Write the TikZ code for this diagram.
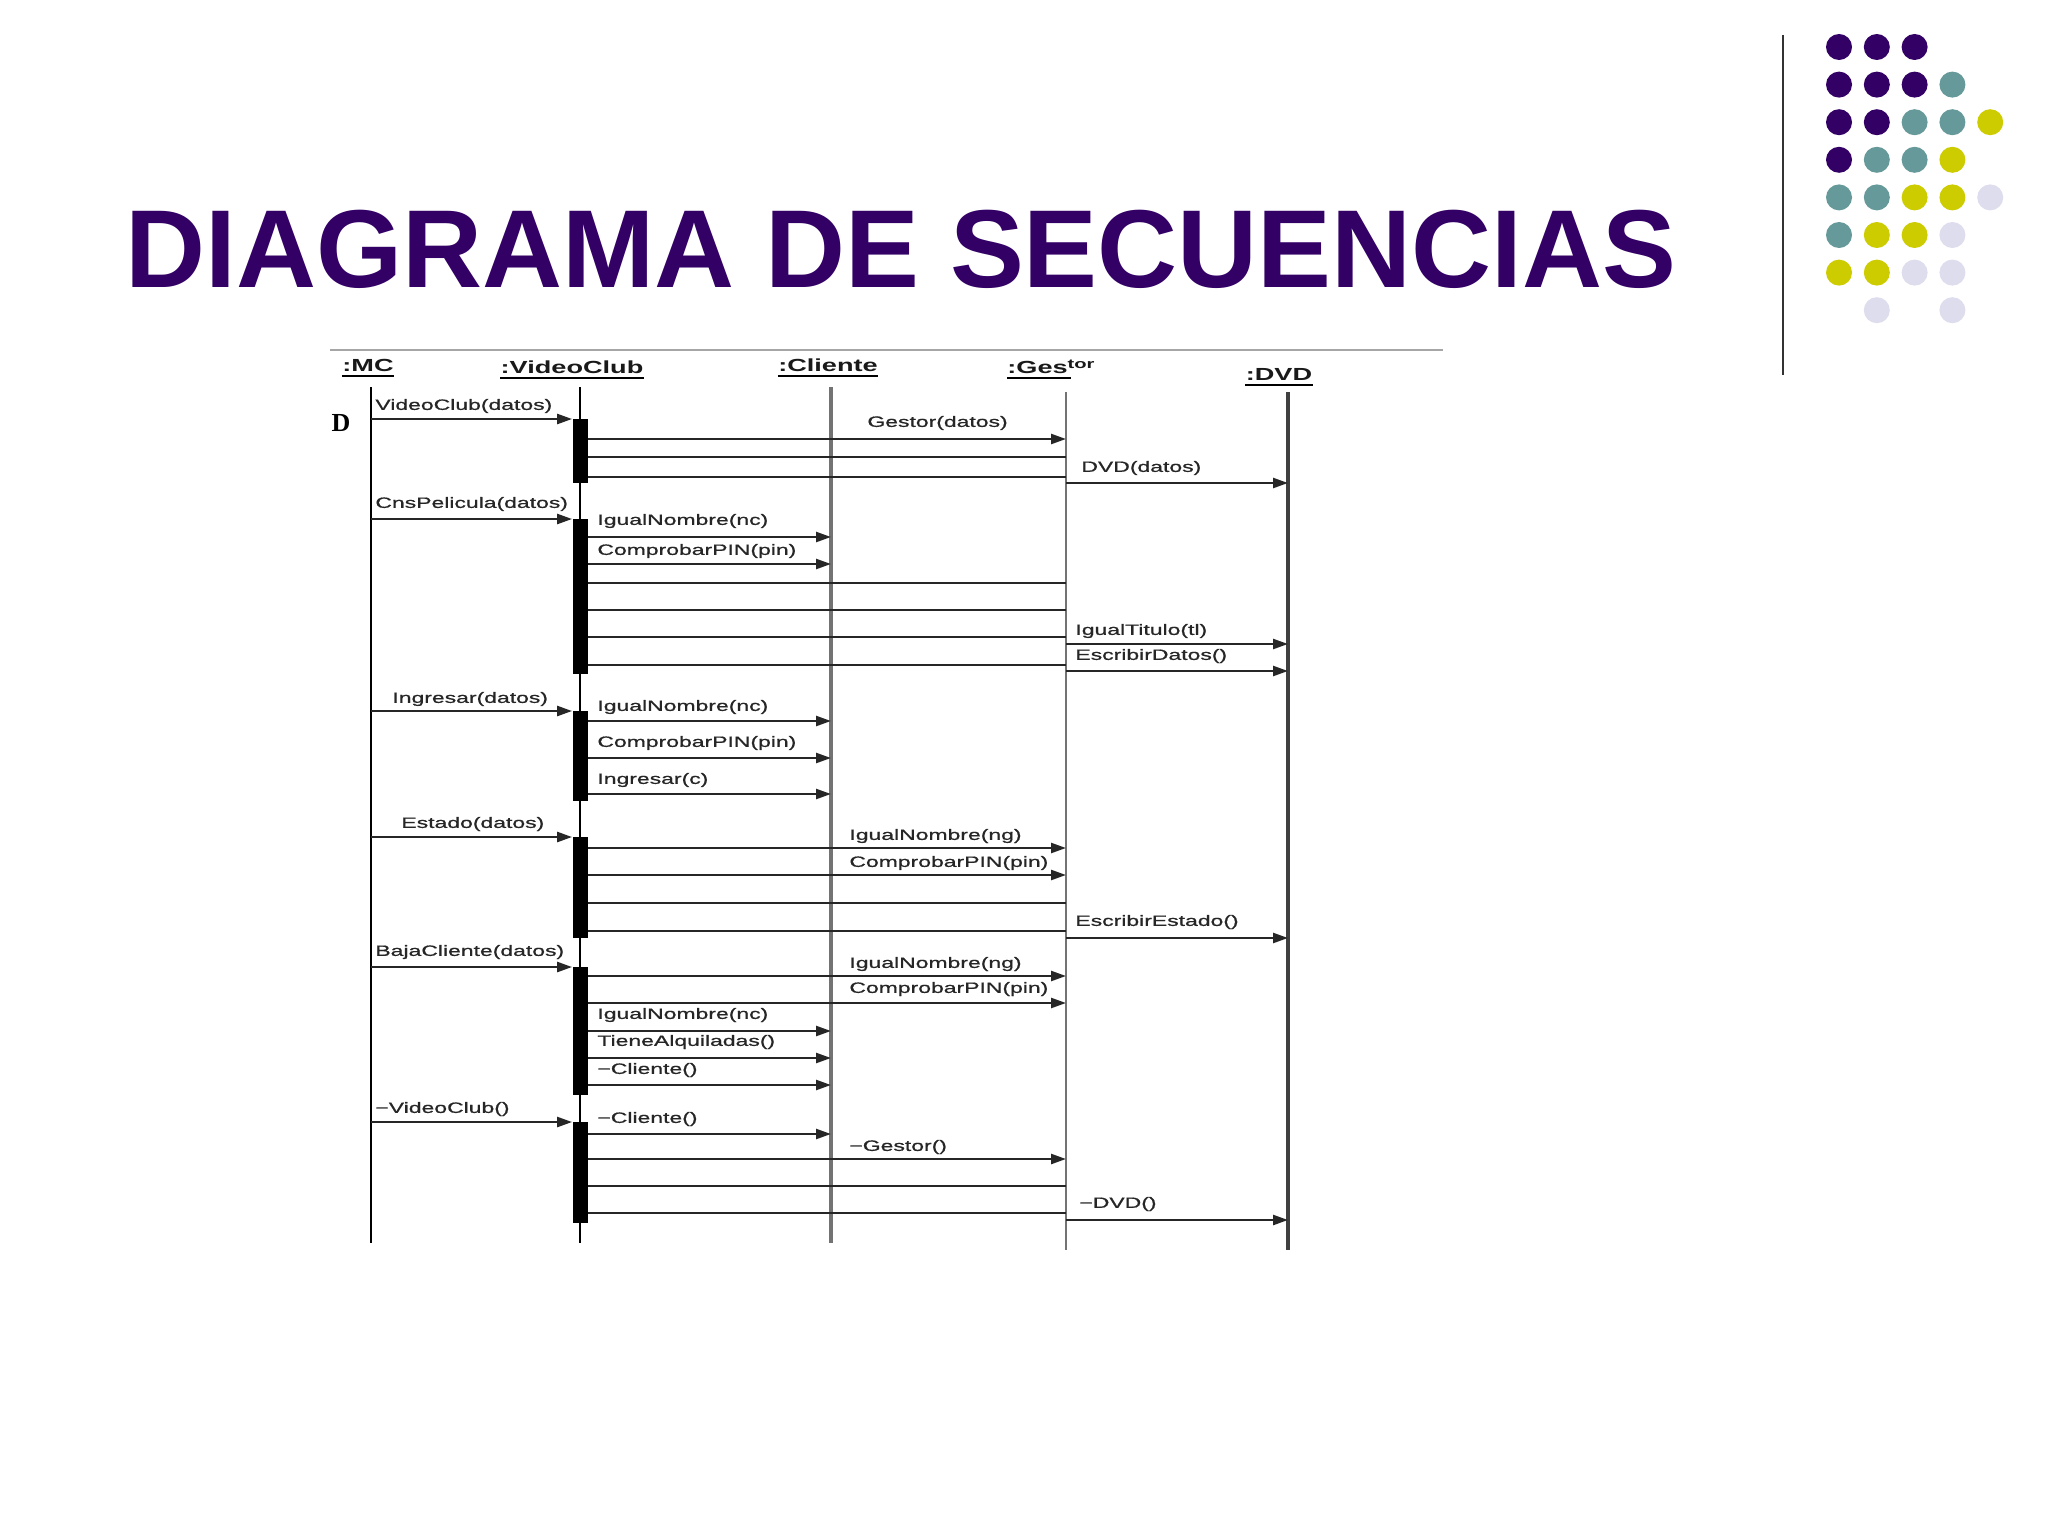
\documentclass[tikz,border=0pt]{standalone}
\usepackage{fontspec}
\setmainfont{Liberation Sans}
\newfontfamily\lblfont[FakeStretch=1.53,FakeBold=0.8]{Liberation Sans}
\newfontfamily\headfont[FakeStretch=1.55]{Liberation Sans}
\newfontfamily\serifD{Liberation Serif}
\usetikzlibrary{arrows.meta}
\definecolor{tpurple}{HTML}{330066}
\definecolor{dteal}{HTML}{669999}
\definecolor{dyellow}{HTML}{CCCC00}
\definecolor{dlav}{HTML}{DDDDEE}
\tikzset{
  lbl/.style={anchor=west, inner sep=0pt, text=black!85, font=\lblfont\fontsize{7.5}{9}\selectfont},
  head/.style={anchor=base, inner sep=0pt, text=black!90, font=\headfont\bfseries\fontsize{8.75}{10}\selectfont},
  msg/.style={draw=black!85, line width=1.2pt, -{Triangle[length=7.5pt,width=5pt]}},
  lnk/.style={draw=black!85, line width=1.2pt},
  act/.style={fill=black, draw=none, minimum width=7.5pt, inner sep=0pt, anchor=north},
  lifeblack/.style={draw=black, line width=1.2pt}
}
\begin{document}
\begin{tikzpicture}[x=0.5pt,y=-0.5pt]
\useasboundingbox (0,0) rectangle (2048,1536);
\fill[white] (0,0) rectangle (2048,1536);

% title
\node[anchor=base west, inner sep=0pt, text=tpurple, font=\bfseries\fontsize{55.4}{60}\selectfont] (title) at (125,287) {DIAGRAMA DE SECUENCIAS};

% side rule and dots
\draw[black!80, line width=1pt] (1783,35) -- (1783,375);
\foreach \c/\r/\col in {1/1/tpurple,2/1/tpurple,3/1/tpurple,
  1/2/tpurple,2/2/tpurple,3/2/tpurple,4/2/dteal,
  1/3/tpurple,2/3/tpurple,3/3/dteal,4/3/dteal,5/3/dyellow,
  1/4/tpurple,2/4/dteal,3/4/dteal,4/4/dyellow,
  1/5/dteal,2/5/dteal,3/5/dyellow,4/5/dyellow,5/5/dlav,
  1/6/dteal,2/6/dyellow,3/6/dyellow,4/6/dlav,
  1/7/dyellow,2/7/dyellow,3/7/dlav,4/7/dlav,
  2/8/dlav,4/8/dlav}
  \fill[\col] ({1839+37.8*(\c-1)},{47+37.6*(\r-1)}) circle[radius=13];

% diagram top rule
\draw[black!35, line width=1pt] (330,350) -- (1443,350);

% lifeline heads
\node[head] (hmc) at (368,371) {:MC};
\node[head] (hvc) at (572,373) {:VideoClub};
\node[head] (hcl) at (828,371) {:Cliente};
\node[head, anchor=base west] (hgs) at (1007,373) {:Ges\raisebox{2.5pt}{\fontsize{6.5}{7}\selectfont tor}};
\node[head] (hdv) at (1279,380) {:DVD};
\foreach \n in {hmc,hvc,hcl,hdv}
  \draw[black, line width=1.1pt] ([yshift=-2.5pt]\n.base west) -- ([yshift=-2.5pt]\n.base east);
\draw[black, line width=1.1pt] ([yshift=-2.5pt]hgs.base west) -- ++(64,0);

% lifelines
\coordinate (mcT) at (371,387); \coordinate (mcB) at (371,1243);
\coordinate (vcT) at (580,387); \coordinate (vcB) at (580,1243);
\coordinate (clT) at (831,387); \coordinate (clB) at (831,1243);
\coordinate (gsT) at (1066,392); \coordinate (gsB) at (1066,1250);
\coordinate (dvT) at (1288,392); \coordinate (dvB) at (1288,1250);
\draw[lifeblack, line width=1.4pt] (mcT) -- (mcB);
\draw[lifeblack] (vcT) -- (vcB);
\draw[draw=black!55, line width=1.7pt] (clT) -- (clB);
\draw[draw=black!55, line width=1.1pt] (gsT) -- (gsB);
\draw[draw=black!75, line width=1.8pt] (dvT) -- (dvB);

\node[font=\serifD\bfseries\fontsize{13}{15}\selectfont, inner sep=0pt] (dsym) at (341,423) {D};

% activations
\node[act, minimum height=32pt] (a1) at (580,419) {};
\node[act, minimum height=77.5pt] (a2) at (580,519) {};
\node[act, minimum height=45pt] (a3) at (580,711) {};
\node[act, minimum height=50.5pt] (a4) at (580,837) {};
\node[act, minimum height=64pt] (a5) at (580,967) {};
\node[act, minimum height=50.5pt] (a6) at (580,1122) {};

% block 1
\node[lbl] (l1) at (375,406) {VideoClub(datos)};
\draw[msg] (mcT |- a1.north) -- (a1.north west);
\node[lbl] (l2) at (867,423) {Gestor(datos)};
\draw[msg] (a1.east |- 0,439) -- (gsT |- 0,439);
\draw[lnk] (a1.east |- 0,457) -- (gsT |- 0,457);
\draw[lnk] (a1.east |- 0,477) -- (gsT |- 0,477);
\node[lbl] (l3) at (1081,468) {DVD(datos)};
\draw[msg] (gsT |- 0,483) -- (dvT |- 0,483);

% block 2
\node[lbl] (l4) at (375,504) {CnsPelicula(datos)};
\draw[msg] (mcT |- a2.north) -- (a2.north west);
\node[lbl] (l5) at (597,521) {IgualNombre(nc)};
\draw[msg] (a2.east |- 0,537) -- (clT |- 0,537);
\node[lbl] (l6) at (597,551) {ComprobarPIN(pin)};
\draw[msg] (a2.east |- 0,564) -- (clT |- 0,564);
\draw[lnk] (a2.east |- 0,583) -- (gsT |- 0,583);
\draw[lnk] (a2.east |- 0,610) -- (gsT |- 0,610);
\draw[lnk] (a2.east |- 0,637) -- (gsT |- 0,637);
\draw[lnk] (a2.east |- 0,665) -- (gsT |- 0,665);
\node[lbl] (l7) at (1075,631) {IgualTitulo(tl)};
\draw[msg] (gsT |- 0,644) -- (dvT |- 0,644);
\node[lbl] (l8) at (1075,656) {EscribirDatos()};
\draw[msg] (gsT |- 0,671) -- (dvT |- 0,671);

% block 3
\node[lbl] (l9) at (392,699) {Ingresar(datos)};
\draw[msg] (mcT |- a3.north) -- (a3.north west);
\node[lbl] (l10) at (597,707) {IgualNombre(nc)};
\draw[msg] (a3.east |- 0,721) -- (clT |- 0,721);
\node[lbl] (l11) at (597,743) {ComprobarPIN(pin)};
\draw[msg] (a3.east |- 0,758) -- (clT |- 0,758);
\node[lbl] (l12) at (597,780) {Ingresar(c)};
\draw[msg] (a3.east |- 0,794) -- (clT |- 0,794);

% block 4
\node[lbl] (l13) at (401,824) {Estado(datos)};
\draw[msg] (mcT |- a4.north) -- (a4.north west);
\node[lbl] (l14) at (849,836) {IgualNombre(ng)};
\draw[msg] (a4.east |- 0,848) -- (gsT |- 0,848);
\node[lbl] (l15) at (849,863) {ComprobarPIN(pin)};
\draw[msg] (a4.east |- 0,875) -- (gsT |- 0,875);
\draw[lnk] (a4.east |- 0,903) -- (gsT |- 0,903);
\draw[lnk] (a4.east |- 0,931) -- (gsT |- 0,931);
\node[lbl] (l16) at (1075,922) {EscribirEstado()};
\draw[msg] (gsT |- 0,938) -- (dvT |- 0,938);

% block 5
\node[lbl] (l17) at (375,952) {BajaCliente(datos)};
\draw[msg] (mcT |- a5.north) -- (a5.north west);
\node[lbl] (l18) at (849,964) {IgualNombre(ng)};
\draw[msg] (a5.east |- 0,976) -- (gsT |- 0,976);
\node[lbl] (l19) at (849,989) {ComprobarPIN(pin)};
\draw[msg] (a5.east |- 0,1003) -- (gsT |- 0,1003);
\node[lbl] (l20) at (597,1015) {IgualNombre(nc)};
\draw[msg] (a5.east |- 0,1031) -- (clT |- 0,1031);
\node[lbl] (l21) at (597,1042) {TieneAlquiladas()};
\draw[msg] (a5.east |- 0,1058) -- (clT |- 0,1058);
\node[lbl] (l22) at (597,1070) {−Cliente()};
\draw[msg] (a5.east |- 0,1085) -- (clT |- 0,1085);

% block 6
\node[lbl] (l23) at (375,1109) {−VideoClub()};
\draw[msg] (mcT |- a6.north) -- (a6.north west);
\node[lbl] (l24) at (597,1119) {−Cliente()};
\draw[msg] (a6.east |- 0,1134) -- (clT |- 0,1134);
\node[lbl] (l25) at (849,1147) {−Gestor()};
\draw[msg] (a6.east |- 0,1159) -- (gsT |- 0,1159);
\draw[lnk] (a6.east |- 0,1186) -- (gsT |- 0,1186);
\draw[lnk] (a6.east |- 0,1213) -- (gsT |- 0,1213);
\node[lbl] (l26) at (1079,1204) {−DVD()};
\draw[msg] (gsT |- 0,1220) -- (dvT |- 0,1220);
\end{tikzpicture}
\end{document}
